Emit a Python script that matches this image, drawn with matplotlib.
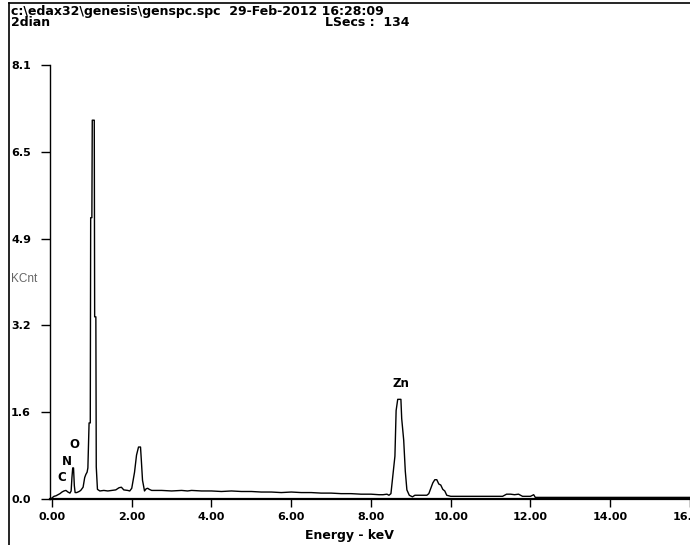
import numpy as np
import matplotlib
matplotlib.use("Agg")
import matplotlib.pyplot as plt
from matplotlib.lines import Line2D

plt.rcParams['font.family'] = ['Liberation Sans', 'DejaVu Sans']

# spectrum: energy (keV), counts (KCnt)
energy = [0.00, 0.05, 0.10, 0.15, 0.20, 0.25, 0.30, 0.35, 0.40, 0.45, 0.48,
          0.50, 0.52, 0.54, 0.56, 0.58, 0.62, 0.68, 0.72, 0.78, 0.82, 0.85,
          0.88, 0.90, 0.93, 0.96, 0.97, 1.00, 1.01, 1.06, 1.07, 1.10, 1.11,
          1.14, 1.20, 1.30, 1.40, 1.50, 1.60, 1.68, 1.74, 1.80, 1.90, 1.95,
          2.00, 2.07, 2.12, 2.17, 2.22, 2.24, 2.27, 2.32, 2.36, 2.40, 2.44,
          2.50, 2.75, 3.00, 3.25, 3.40, 3.50, 3.75, 4.00, 4.25, 4.50, 4.75,
          5.00, 5.25, 5.50, 5.75, 6.00, 6.25, 6.50, 6.75, 7.00, 7.25, 7.50,
          7.75, 8.00, 8.20, 8.30, 8.40, 8.45, 8.50, 8.55, 8.60, 8.63, 8.67,
          8.75, 8.77, 8.82, 8.86, 8.90, 8.96, 9.04, 9.10, 9.20, 9.30, 9.40,
          9.45, 9.50, 9.55, 9.60, 9.65, 9.70, 9.75, 9.80, 9.85, 9.90, 10.00,
          10.30, 10.60, 10.90, 11.20, 11.30, 11.40, 11.50, 11.60, 11.70,
          11.80, 12.00, 12.08, 12.12, 13.00, 14.00, 15.00, 16.00]
kcnt = [0.02, 0.05, 0.06, 0.08, 0.10, 0.13, 0.15, 0.16, 0.13, 0.11, 0.15,
        0.40, 0.58, 0.58, 0.25, 0.12, 0.12, 0.14, 0.16, 0.22, 0.40, 0.46,
        0.50, 0.58, 1.42, 1.42, 5.25, 5.25, 7.07, 7.07, 3.40, 3.40, 0.60,
        0.18, 0.15, 0.16, 0.15, 0.16, 0.17, 0.21, 0.22, 0.17, 0.16, 0.15,
        0.20, 0.50, 0.82, 0.97, 0.97, 0.73, 0.35, 0.15, 0.19, 0.20, 0.18,
        0.16, 0.16, 0.15, 0.16, 0.15, 0.16, 0.15, 0.15, 0.14, 0.15, 0.14,
        0.14, 0.13, 0.13, 0.12, 0.13, 0.12, 0.12, 0.11, 0.11, 0.10, 0.10,
        0.09, 0.09, 0.08, 0.08, 0.09, 0.07, 0.10, 0.45, 0.80, 1.65, 1.86,
        1.86, 1.50, 1.10, 0.52, 0.17, 0.07, 0.04, 0.07, 0.07, 0.07, 0.07,
        0.10, 0.20, 0.30, 0.36, 0.36, 0.28, 0.26, 0.18, 0.15, 0.07, 0.05,
        0.05, 0.05, 0.05, 0.05, 0.05, 0.09, 0.09, 0.08, 0.09, 0.05, 0.05,
        0.08, 0.03, 0.03, 0.03, 0.03, 0.03]

ytick_vals = [0.0, 1.62, 3.24, 4.86, 6.48, 8.1]
ytick_labels = ['0.0', '1.6', '3.2', '4.9', '6.5', '8.1']
xtick_vals = [0, 2, 4, 6, 8, 10, 12, 14, 16]
xtick_labels = ['0.00', '2.00', '4.00', '6.00', '8.00', '10.00', '12.00', '14.00', '16.00']

elements = ['C', 'N', 'O', 'Zn']
element_e = [0.25, 0.37, 0.55, 8.75]
element_y = [0.41, 0.70, 1.02, 2.16]

W, H = 690, 545
wide = ['DejaVu Sans']
fig = plt.figure(figsize=(6.9, 5.45), dpi=100)
ax = fig.add_axes([50 / W, 1 - 499 / H, 1 - 50 / W, (499 - 65) / H])

ax.plot(energy, kcnt, color='black', lw=1.0)
ax.set_xlim(-0.05, 15.91)
ax.set_ylim(0, 8.1)

for s in ['top', 'right']:
    ax.spines[s].set_visible(False)
ax.spines['left'].set_linewidth(1.0)
ax.spines['bottom'].set_linewidth(1.6)

ax.set_yticks(ytick_vals)
ax.set_yticklabels(ytick_labels, fontsize=8, fontweight='bold', ha='left', family=wide)
ax.tick_params(axis='y', length=6.5, width=1.0, pad=21.5)
ax.set_xticks(xtick_vals)
ax.set_xticklabels(xtick_labels, fontsize=8, fontweight='bold', family=wide)
ax.tick_params(axis='x', length=5.5, width=1.0, pad=4)

for name, e, y in zip(elements, element_e, element_y):
    ax.text(e, y, name, fontsize=8.5, fontweight='bold', ha='center', va='center',
            family=wide)

fig.text(11 / W, 1 - 279 / H, 'KCnt', fontsize=8.5, color='#666666', va='center')
fig.text(349 / W, 1 - 535 / H, 'Energy - keV', fontsize=9, fontweight='bold',
         ha='center', va='center', family=wide)
fig.text(11 / W, 1 - 11 / H, 'c:\\edax32\\genesis\\genspc.spc  29-Feb-2012 16:28:09',
         fontsize=9, fontweight='bold', va='center', family=wide)
fig.text(11 / W, 1 - 23 / H, '2dian', fontsize=9, fontweight='bold', va='center',
         family=wide)
fig.text(325 / W, 1 - 23 / H, 'LSecs :  134', fontsize=9, fontweight='bold',
         va='center', family=wide)

# outer frame (left and top edges)
fig.add_artist(Line2D([9 / W, 9 / W], [0, 1 - 3 / H], color='black', lw=1.2))
fig.add_artist(Line2D([9 / W, 1], [1 - 3 / H, 1 - 3 / H], color='black', lw=1.2))

fig.savefig('out.png', dpi=100)
